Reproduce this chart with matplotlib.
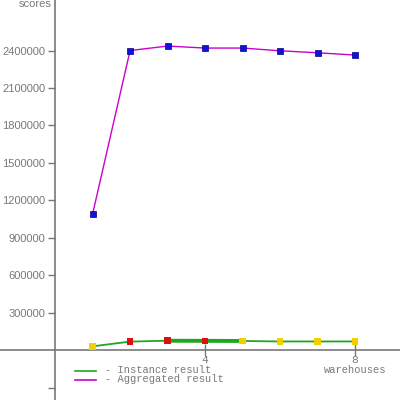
import matplotlib

matplotlib.use("Agg")
import matplotlib.pyplot as plt

# chart data
warehouses = [1, 2, 3, 4, 5, 6, 7, 8]
aggregated = [1090000, 2400000, 2436000, 2420000, 2420000, 2398000, 2382000, 2364000]
instance = [30000, 68000, 75000, 74000, 73000, 69000, 69000, 69000]
instance_marker_colors = ["#f0d000", "#dd1010", "#dd1010", "#dd1010",
                          "#f0d000", "#f0d000", "#f0d000", "#f0d000"]
x_ticks = [4, 8]
y_ticks = [-300000, 300000, 600000, 900000, 1200000, 1500000,
           1800000, 2100000, 2400000]
y_tick_labels = ["", "300000", "600000", "900000", "1200000", "1500000",
                 "1800000", "2100000", "2400000"]
legend_labels = ["- Instance result", "- Aggregated result"]

gray = "#787878"
green = "#1fa81f"
magenta = "#cc00cc"
mono = ["Liberation Mono", "DejaVu Sans Mono"]
sans = ["Liberation Sans", "DejaVu Sans"]

fig = plt.figure(figsize=(4, 4), dpi=100)
ax = fig.add_axes([0, 0, 1, 1])
ax.set_xlim(-1.47, 9.2)
ax.set_ylim(-400000, 2805000)

for side in ["top", "right"]:
    ax.spines[side].set_visible(False)
ax.spines["left"].set_position(("data", 0))
ax.spines["bottom"].set_position(("data", 0))
for side in ["left", "bottom"]:
    ax.spines[side].set_color(gray)
    ax.spines[side].set_linewidth(1.2)

ax.set_xticks(x_ticks)
ax.set_xticklabels([str(t) for t in x_ticks], family=mono)
ax.set_yticks(y_ticks)
ax.set_yticklabels(y_tick_labels, family=sans)
ax.tick_params(axis="x", direction="inout", length=9, width=1, color=gray,
               labelcolor=gray, labelsize=8, pad=-1)
ax.tick_params(axis="y", direction="out", length=5, width=1, color=gray,
               labelcolor=gray, labelsize=8, pad=2)

# instance result line (thicker where instances overlap)
ax.plot(warehouses, instance, color=green, lw=1.3, zorder=3)
ax.plot(warehouses[2:5], instance[2:5], color=green, lw=2.8, zorder=3)
ax.scatter(warehouses, instance, marker="s", s=22, c=instance_marker_colors,
           edgecolors="none", zorder=4)

# aggregated result line
ax.plot(warehouses, aggregated, color=magenta, lw=1, zorder=3)
ax.scatter(warehouses, aggregated, marker="s", s=22, c="#1010e0",
           edgecolors="#000080", linewidths=0.5, zorder=4)

# axis titles
ax.text(35 / 400, 1 - 4 / 400, "scores", transform=ax.transAxes, ha="center",
        va="center", fontsize=8, color=gray, family=sans)
ax.text(355 / 400, 1 - 370 / 400, "warehouses", transform=ax.transAxes,
        ha="center", va="center", fontsize=7.5, color=gray, family=mono)

# legend
for i, (label, color) in enumerate(zip(legend_labels, [green, magenta])):
    yy = 1 - (371 + 8.5 * i) / 400
    ax.plot([75 / 400, 96 / 400], [yy, yy], color=color, lw=1.2,
            transform=ax.transAxes, clip_on=False)
    ax.text(105 / 400, yy + 0.002, label, transform=ax.transAxes, ha="left",
            va="center", fontsize=7.5, color=gray, family=mono)

fig.savefig("out.png", dpi=100, facecolor="white")
